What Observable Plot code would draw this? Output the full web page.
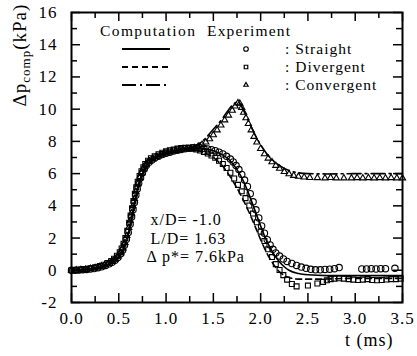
<!DOCTYPE html>
<html>
<head>
<meta charset="utf-8">
<script src="https://cdn.jsdelivr.net/npm/d3@7"></script>
<script src="https://cdn.jsdelivr.net/npm/@observablehq/plot@0.6"></script>
<style>
  html, body { margin: 0; padding: 0; background: #fff; }
  #chart svg, #chart svg text { font-family: "Liberation Serif", serif; letter-spacing: 1px; }
</style>
</head>
<body>
<div id="chart"></div>
<script>
// Wall pressure history at x/D = -1.0 for three nozzle shapes: computation (lines) vs experiment (symbols)

const xTickValues = [0, 0.5, 1.0, 1.5, 2.0, 2.5, 3.0, 3.5];
const xMinorTicks = [0.25, 0.75, 1.25, 1.75, 2.25, 2.75, 3.25];
const yTickValues = [-2, 0, 2, 4, 6, 8, 10, 12, 14, 16];
const yMinorTicks = [-1, 1, 3, 5, 7, 9, 11, 13, 15];

const seriesNames = ["Straight", "Divergent", "Convergent"];
const legendHeader = ["Computation", "Experiment"];
const annotations = ["x/D= -1.0", "L/D= 1.63", "Δ p*= 7.6kPa"];

// computation, [t (ms), Δp (kPa)]
const compStraight = [[0,0],[0.1,0.02],[0.2,0.07],[0.3,0.18],[0.4,0.38],[0.45,0.55],[0.5,0.82],[0.54,1.15],[0.57,1.6],[0.6,2.2],[0.63,3.0],[0.66,3.9],[0.69,4.75],[0.72,5.45],[0.76,6.05],[0.8,6.45],[0.85,6.8],[0.9,7.0],[1.0,7.25],[1.1,7.42],[1.2,7.53],[1.3,7.58],[1.4,7.55],[1.5,7.42],[1.6,7.15],[1.65,6.95],[1.7,6.65],[1.75,6.25],[1.8,5.75],[1.85,5.1],[1.9,4.35],[1.95,3.55],[2.0,2.75],[2.05,2.0],[2.1,1.4],[2.15,0.9],[2.2,0.52],[2.25,0.22],[2.3,0.0],[2.4,-0.2],[2.5,-0.28],[2.7,-0.33],[3.0,-0.33],[3.5,-0.33]];
const compDivergent = [[0,0],[0.1,0.03],[0.2,0.1],[0.3,0.22],[0.4,0.45],[0.45,0.62],[0.5,0.9],[0.54,1.25],[0.57,1.7],[0.6,2.3],[0.63,3.1],[0.66,4.0],[0.69,4.85],[0.72,5.55],[0.76,6.12],[0.8,6.5],[0.85,6.85],[0.9,7.05],[1.0,7.3],[1.1,7.45],[1.2,7.52],[1.3,7.48],[1.4,7.3],[1.5,7.0],[1.55,6.75],[1.6,6.45],[1.65,6.05],[1.7,5.6],[1.75,5.1],[1.8,4.55],[1.85,3.95],[1.9,3.3],[1.95,2.6],[2.0,1.9],[2.05,1.25],[2.1,0.7],[2.15,0.25],[2.2,-0.1],[2.25,-0.32],[2.3,-0.45],[2.4,-0.55],[2.6,-0.55],[3.0,-0.5],[3.5,-0.5]];
const compConvergent = [[0,0],[0.1,0.02],[0.2,0.08],[0.3,0.2],[0.4,0.4],[0.45,0.58],[0.5,0.85],[0.54,1.2],[0.57,1.65],[0.6,2.25],[0.63,3.05],[0.66,3.95],[0.69,4.8],[0.72,5.5],[0.76,6.1],[0.8,6.48],[0.85,6.82],[0.9,7.02],[1.0,7.28],[1.1,7.43],[1.2,7.55],[1.3,7.7],[1.4,8.1],[1.5,8.75],[1.6,9.45],[1.66,9.95],[1.72,10.35],[1.76,10.45],[1.8,10.15],[1.85,9.55],[1.9,8.9],[1.95,8.3],[2.0,7.8],[2.05,7.35],[2.1,7.0],[2.15,6.72],[2.2,6.5],[2.3,6.2],[2.4,6.05],[2.5,6.0],[2.7,5.98],[3.0,6.0],[3.5,6.0]];

// experiment, [t (ms), Δp (kPa)]
const expStraight = [[0.00,0.00],[0.04,0.00],[0.08,0.01],[0.12,0.03],[0.16,0.05],[0.20,0.08],[0.24,0.11],[0.28,0.16],[0.32,0.22],[0.36,0.30],[0.40,0.40],[0.43,0.50],[0.46,0.63],[0.49,0.80],[0.52,1.02],[0.54,1.25],[0.56,1.55],[0.58,1.92],[0.60,2.35],[0.62,2.85],[0.635,3.3],[0.65,3.75],[0.665,4.2],[0.68,4.65],[0.695,5.05],[0.71,5.4],[0.73,5.75],[0.75,6.05],[0.77,6.3],[0.79,6.5],[0.82,6.7],[0.85,6.85],[0.88,6.97],[0.92,7.08],[0.96,7.18],[1.00,7.26],[1.04,7.33],[1.08,7.4],[1.12,7.45],[1.16,7.5],[1.20,7.55],[1.24,7.58],[1.28,7.6],[1.32,7.6],[1.36,7.6],[1.40,7.57],[1.44,7.53],[1.48,7.48],[1.52,7.42],[1.56,7.33],[1.60,7.22],[1.64,7.07],[1.68,6.9],[1.71,6.72],[1.74,6.5],[1.77,6.25],[1.80,5.95],[1.83,5.6],[1.86,5.2],[1.89,4.75],[1.92,4.25],[1.95,3.75],[1.98,3.25],[2.01,2.75],[2.04,2.3],[2.07,1.9],[2.10,1.57],[2.13,1.3],[2.16,1.08],[2.20,0.88],[2.24,0.7],[2.28,0.55],[2.33,0.42],[2.38,0.3],[2.43,0.2],[2.48,0.12],[2.53,0.06],[2.58,0.03],[2.63,0.03],[2.68,0.05],[2.73,0.07],[2.78,0.1],[2.83,0.17],[3.07,0.08],[3.12,0.08],[3.17,0.1],[3.22,0.08],[3.27,0.1],[3.32,0.1],[3.42,0.12]];
const expDivergent = [[0.00,0.00],[0.05,0.01],[0.10,0.03],[0.15,0.07],[0.20,0.12],[0.25,0.18],[0.30,0.26],[0.34,0.34],[0.38,0.45],[0.42,0.58],[0.45,0.72],[0.48,0.9],[0.51,1.12],[0.53,1.35],[0.55,1.65],[0.57,2.0],[0.59,2.45],[0.61,2.95],[0.625,3.4],[0.64,3.85],[0.655,4.3],[0.67,4.75],[0.685,5.15],[0.70,5.5],[0.72,5.85],[0.74,6.15],[0.76,6.4],[0.78,6.6],[0.81,6.8],[0.84,6.95],[0.88,7.08],[0.92,7.2],[0.96,7.3],[1.00,7.38],[1.04,7.45],[1.08,7.5],[1.12,7.55],[1.16,7.58],[1.20,7.6],[1.24,7.58],[1.28,7.55],[1.32,7.5],[1.36,7.43],[1.40,7.35],[1.44,7.25],[1.48,7.12],[1.52,6.98],[1.56,6.8],[1.60,6.6],[1.64,6.35],[1.68,6.05],[1.72,5.7],[1.76,5.3],[1.80,4.9],[1.84,4.48],[1.88,4.02],[1.92,3.52],[1.96,2.98],[2.00,2.4],[2.04,1.82],[2.08,1.3],[2.12,0.82],[2.16,0.38],[2.20,0.02],[2.24,-0.3],[2.28,-0.58],[2.33,-0.85],[2.38,-1.0],[2.50,-0.95],[2.60,-0.82],[2.66,-0.72],[2.70,-0.62],[2.74,-0.55],[2.78,-0.52],[2.83,-0.5],[2.88,-0.52],[2.93,-0.55],[2.98,-0.58],[3.03,-0.6],[3.08,-0.58],[3.13,-0.55],[3.18,-0.6],[3.23,-0.62],[3.28,-0.6],[3.33,-0.57],[3.38,-0.55],[3.43,-0.55],[3.48,-0.52]];
const expConvergent = [[0.00,0.00],[0.05,0.01],[0.10,0.03],[0.15,0.06],[0.20,0.1],[0.25,0.15],[0.30,0.22],[0.35,0.32],[0.39,0.42],[0.43,0.55],[0.46,0.68],[0.49,0.86],[0.52,1.08],[0.545,1.38],[0.565,1.72],[0.585,2.15],[0.605,2.65],[0.62,3.1],[0.635,3.55],[0.65,4.0],[0.665,4.45],[0.68,4.9],[0.70,5.35],[0.72,5.72],[0.74,6.02],[0.76,6.28],[0.79,6.55],[0.82,6.75],[0.86,6.92],[0.90,7.05],[0.94,7.15],[0.98,7.25],[1.02,7.32],[1.06,7.38],[1.10,7.43],[1.14,7.48],[1.18,7.52],[1.22,7.55],[1.26,7.57],[1.30,7.6],[1.34,7.68],[1.38,7.8],[1.42,7.95],[1.46,8.15],[1.50,8.4],[1.54,8.7],[1.58,9.0],[1.62,9.32],[1.66,9.62],[1.70,9.92],[1.73,10.18],[1.76,10.38],[1.78,10.35],[1.80,10.1],[1.82,9.8],[1.845,9.45],[1.87,9.1],[1.90,8.7],[1.93,8.3],[1.96,7.95],[2.00,7.55],[2.04,7.22],[2.08,6.95],[2.12,6.72],[2.16,6.5],[2.20,6.32],[2.25,6.12],[2.30,5.98],[2.35,5.88],[2.40,5.82],[2.46,5.78],[2.52,5.75],[2.60,5.74],[2.68,5.72],[2.74,5.75],[2.80,5.72],[2.88,5.72],[2.96,5.72],[3.02,5.74],[3.08,5.72],[3.14,5.74],[3.20,5.72],[3.26,5.74],[3.32,5.72],[3.38,5.74],[3.44,5.72],[3.50,5.72]];

const W = 417, H = 356;
const M = {top: 12, right: 15, bottom: 54, left: 71};
const frameW = W - M.left - M.right;
const frameH = H - M.top - M.bottom;
const FONT = "Liberation Serif, serif";

const styles = [
  {comp: compStraight,   exp: expStraight,   dash: null,       symbol: "circle",   r: 3.2},
  {comp: compDivergent,  exp: expDivergent,  dash: "6,4",      symbol: "square",   r: 2.8},
  {comp: compConvergent, exp: expConvergent, dash: "14,4,2,4", symbol: "triangle", r: 2.3}
];

const px = d => d[0], py = d => d[1];

// y label with subscript and the in-frame legend
function overlay(index, scales, values, dimensions) {
  const g = d3.create("svg:g")
    .attr("font-family", FONT).attr("fill", "black").attr("text-anchor", "start");
  const yl = g.append("text")
    .attr("transform", "translate(26,55) rotate(-90)")
    .attr("text-anchor", "middle").attr("font-size", 19);
  yl.append("tspan").text("Δp");
  yl.append("tspan").attr("font-size", 13).attr("dy", 4).text("comp");
  yl.append("tspan").attr("dy", -4).text("(kPa)");

  const lg = g.append("g").attr("font-size", 15.5);
  lg.append("text").attr("x", 100).attr("y", 36).style("letter-spacing", "1.4px").text(legendHeader[0]);
  lg.append("text").attr("x", 207).attr("y", 36).style("letter-spacing", "1.2px").text(legendHeader[1]);
  const rowY = [49, 67, 85];
  const symbols = {circle: d3.symbolCircle, square: d3.symbolSquare, triangle: d3.symbolTriangle};
  styles.forEach((s, i) => {
    const y = rowY[i];
    lg.append("line").attr("x1", 122).attr("x2", 170).attr("y1", y).attr("y2", y)
      .attr("stroke", "black").attr("stroke-width", 2)
      .attr("stroke-dasharray", s.dash);
    lg.append("path")
      .attr("d", d3.symbol(symbols[s.symbol], Math.PI * s.r * s.r * 0.5)())
      .attr("transform", `translate(246,${y})`)
      .attr("fill", "none").attr("stroke", "black").attr("stroke-width", 1.2);
    lg.append("text").attr("x", 285).attr("y", y).attr("dy", "0.35em").text(": " + seriesNames[i]);
  });
  return g.node();
}

const marks = [
  // inward ticks on all four sides
  Plot.tickX(xTickValues, {x: d => d, insetTop: frameH - 9, strokeWidth: 1.5}),
  Plot.tickX(xMinorTicks, {x: d => d, insetTop: frameH - 6, strokeWidth: 1.5}),
  Plot.tickX(xTickValues, {x: d => d, insetBottom: frameH - 9, strokeWidth: 1.5}),
  Plot.tickX(xMinorTicks, {x: d => d, insetBottom: frameH - 6, strokeWidth: 1.5}),
  Plot.tickY(yTickValues, {y: d => d, insetRight: frameW - 9, strokeWidth: 1.5}),
  Plot.tickY(yMinorTicks, {y: d => d, insetRight: frameW - 6, strokeWidth: 1.5}),
  Plot.tickY(yTickValues, {y: d => d, insetLeft: frameW - 9, strokeWidth: 1.5}),
  Plot.tickY(yMinorTicks, {y: d => d, insetLeft: frameW - 6, strokeWidth: 1.5}),
  Plot.axisX(xTickValues, {tickSize: 0, tickPadding: 9, tickFormat: d => d.toFixed(1), label: null, fontSize: 17}),
  Plot.axisY(yTickValues, {tickSize: 0, tickPadding: 14, tickFormat: d => String(d), label: null, fontSize: 17}),
  Plot.frame({strokeWidth: 2})
];

for (const s of styles) {
  marks.push(Plot.line(s.comp, {x: px, y: py, stroke: "black", strokeWidth: 1.6, strokeDasharray: s.dash, curve: "monotone-x"}));
  marks.push(Plot.dot(s.exp, {x: px, y: py, symbol: s.symbol, r: s.r, stroke: "black", fill: "none", strokeWidth: 1.1}));
}

marks.push(
  Plot.text([annotations[0]], {frameAnchor: "top-left", dx: 79, dy: 201, textAnchor: "start", fontSize: 16}),
  Plot.text([annotations[1]], {frameAnchor: "top-left", dx: 79, dy: 220, textAnchor: "start", fontSize: 16}),
  Plot.text([annotations[2]], {frameAnchor: "top-left", dx: 75, dy: 238, textAnchor: "start", fontSize: 16}),
  Plot.text(["t (ms)"], {frameAnchor: "bottom-right", dx: -9, dy: 43, textAnchor: "end", fontSize: 18}),
  overlay
);

const chart = Plot.plot({
  width: W,
  height: H,
  marginTop: M.top,
  marginRight: M.right,
  marginBottom: M.bottom,
  marginLeft: M.left,
  style: {fontFamily: FONT, fontSize: "16px", background: "#fff", color: "black", overflow: "visible"},
  x: {domain: [0, 3.5], axis: null},
  y: {domain: [-2, 16], axis: null},
  marks
});
document.getElementById("chart").appendChild(chart);
</script>
</body>
</html>
